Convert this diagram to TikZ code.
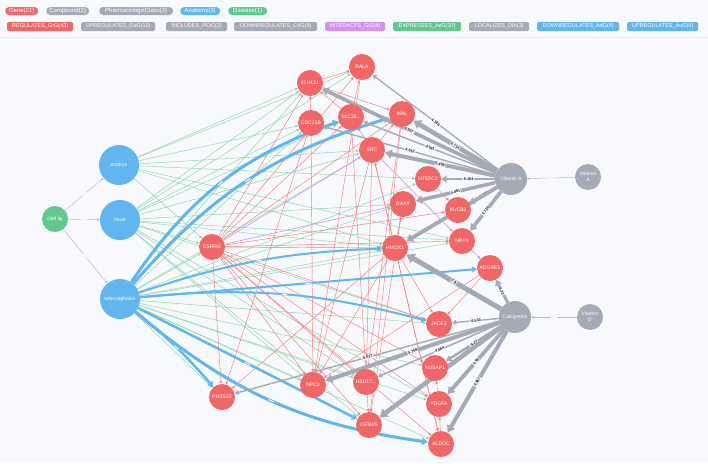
\documentclass[tikz,border=0pt]{standalone}
\usepackage{fontspec}
\setmainfont{Liberation Sans}
\usepackage{xcolor}
\usepackage{tikz}
\usetikzlibrary{positioning,arrows.meta,backgrounds}
\definecolor{BG}{HTML}{F8F9FC}
\definecolor{RULE}{HTML}{E8EAF0}
\definecolor{INK}{HTML}{1A1A1A}
\definecolor{GENE}{HTML}{F16667}
\definecolor{COMP}{HTML}{A5ABB6}
\definecolor{ANAT}{HTML}{62B6F0}
\definecolor{DIS}{HTML}{63C78F}
\definecolor{INTER}{HTML}{D393EC}
\definecolor{EXPR}{HTML}{86D6A8}

\begin{document}
\begin{tikzpicture}[
    x=1pt, y=-1pt,
    font=\fontsize{5}{6}\selectfont,
    pill/.style={fill=#1, text=white, anchor=west, rounded corners=4pt,
      minimum height=8pt, inner ysep=0pt, inner xsep=3pt, font=\fontsize{6}{7}\selectfont},
    tag/.style={fill=#1, text=white, anchor=west, rounded corners=1.5pt,
      minimum height=9pt, inner ysep=0pt, inner xsep=3pt, font=\fontsize{5.5}{6}\selectfont},
    gene/.style={circle, fill=GENE, text=white, minimum size=26pt, inner sep=0pt},
    anat/.style={circle, fill=ANAT, text=white, minimum size=40pt, inner sep=0pt},
    cmpd/.style={circle, fill=COMP, text=white, minimum size=32pt, inner sep=0pt},
    pclass/.style={circle, fill=COMP, text=white, minimum size=26pt, inner sep=0pt, align=center},
    dis/.style={circle, fill=DIS, text=white, minimum size=26pt, inner sep=0pt},
    thin/.style={line width=0.45pt, -{Triangle[length=2.6pt, width=2.4pt]}},
    expr/.style={thin, draw=EXPR},
    regu/.style={thin, draw=GENE!85},
    inter/.style={thin, draw=INTER, line width=0.6pt},
    link/.style={thin, draw=COMP!80, line width=0.5pt},
    aedge/.style={draw=ANAT, -{Triangle[length=2.5pt 1.1, width=2.5pt 1.6]}},
    cedge/.style={draw=COMP, -{Triangle[length=2.5pt 1.1, width=2.5pt 1.6]}},
    elab/.style={font=\fontsize{3.8}{4}\selectfont\bfseries, text=INK, fill=BG,
      inner sep=0.5pt, sloped},
    gap/.style={fill=BG, inner sep=0pt, minimum width=6pt, minimum height=1pt, sloped},
  ]

  \useasboundingbox (0,0) rectangle (708,463);

  % --- legend ---
  \node[pill=GENE, minimum width=33pt] (lgGene) at (5,11) {Gene(21)};
  \node[pill=COMP, minimum width=43pt] (lgComp) at (46,11) {Compound(2)};
  \node[pill=COMP, minimum width=74pt] (lgPC) at (99,11) {PharmacologicClass(2)};
  \node[pill=ANAT, minimum width=40pt] (lgAnat) at (180,11) {Anatomy(3)};
  \node[pill=DIS, minimum width=39pt] (lgDis) at (228,11) {Disease(1)};

  \node[tag=GENE, minimum width=66pt] (lgGrG) at (7,26.5) {REGULATES\_GrG(43)};
  \node[tag=COMP, minimum width=74pt] (lgCuG) at (81,26.5) {UPREGULATES\_CuG(12)};
  \node[tag=COMP, minimum width=61pt] (lgPCiC) at (166,26.5) {INCLUDES\_PCiC(2)};
  \node[tag=COMP, minimum width=83pt] (lgCdG) at (234,26.5) {DOWNREGULATES\_CdG(9)};
  \node[tag=INTER, minimum width=60pt] (lgGiG) at (325,26.5) {INTERACTS\_GiG(4)};
  \node[tag=DIS, minimum width=68pt] (lgAeG) at (393,26.5) {EXPRESSES\_AeG(37)};
  \node[tag=COMP, minimum width=60pt] (lgDlA) at (469,26.5) {LOCALIZES\_DlA(3)};
  \node[tag=ANAT, minimum width=82pt] (lgAdG) at (537,26.5) {DOWNREGULATES\_AdG(4)};
  \node[tag=ANAT, minimum width=71pt] (lgAuG) at (627,26.5) {UPREGULATES\_AuG(4)};

  % --- disease and anatomy ---
  \node[dis] (cleft) at (55,219) {cleft lip};
  \node[anat] (embryo) at (119,165) {embryo};
  \node[anat] (head) at (120,220) {head};
  \node[anat] (tel) at (120,299) {telencephalon};

  % --- genes ---
  \node[gene] (ESRRG) at (212,247) {ESRRG};
  \node[gene] (KLHL21) at (310,83) {KLHL21};
  \node[gene] (RALA) at (362,67) {RALA};
  \node[gene] (CDC25B) at (311,123) {CDC25B};
  \node[gene] (SLC25) at (351,117) {SLC25...};
  \node[gene] (MAL) at (402,114) {MAL};
  \node[gene] (SRC) at (372,150) {SRC};
  \node[gene] (NT5DC2) at (428,179) {NT5DC2};
  \node[gene] (DAXX) at (403,204) {DAXX};
  \node[gene] (NUCB2) at (458,210) {NUCB2};
  \node[gene] (NRP1) at (462,241) {NRP1};
  \node[gene] (HMOX1) at (395,248) {HMOX1};
  \node[gene] (ADGRE5) at (490,268) {ADGRE5};
  \node[gene] (JADE2) at (439,324) {JADE2};
  \node[gene] (NUSAP1) at (435,368) {NUSAP1};
  \node[gene] (PDGFA) at (439,404) {PDGFA};
  \node[gene] (ALDOC) at (441,444) {ALDOC};
  \node[gene] (IGFBP5) at (369,425) {IGFBP5};
  \node[gene] (HSD17) at (366,382) {HSD17...};
  \node[gene] (NPC1) at (313,385) {NPC1};
  \node[gene] (PRSS23) at (222,397) {PRSS23};

  % --- compounds and classes ---
  \node[cmpd] (VitA) at (511,179) {Vitamin A};
  \node[pclass] (VitAcls) at (588,177) {Vitamin\\A};
  \node[cmpd] (Calci) at (515,317) {Calcipotriol};
  \node[pclass] (VitDcls) at (590,317) {Vitamin\\D};

  \begin{scope}[on background layer]
    \fill[BG] (0,0) rectangle (708,463);
    \draw[RULE, line width=0.4pt] (0,37) -- (708,37);

    % expresses
    \foreach \g in {KLHL21,RALA,CDC25B,SRC,NT5DC2,HMOX1,ESRRG,NRP1}
      \draw[expr] (embryo) -- (\g);
    \foreach \g in {KLHL21,RALA,CDC25B,SLC25,SRC,DAXX,HMOX1,NRP1,ESRRG,JADE2,NPC1,PDGFA,HSD17,IGFBP5}
      \draw[expr] (head) -- (\g);
    \foreach \g in {KLHL21,CDC25B,SRC,NT5DC2,DAXX,HMOX1,NRP1,ESRRG,JADE2,NPC1,HSD17,PDGFA,ALDOC,PRSS23,NUSAP1}
      \draw[expr] (tel) -- (\g);

    % regulates
    \foreach \g in {KLHL21,RALA,SLC25,MAL,HMOX1,NRP1,NUCB2,JADE2,PRSS23,NPC1,HSD17,IGFBP5,ALDOC,NUSAP1,PDGFA}
      \draw[regu] (ESRRG) -- (\g);
    \foreach \s/\t in {KLHL21/RALA,KLHL21/MAL,SLC25/RALA,SLC25/KLHL21,CDC25B/KLHL21,
        CDC25B/NPC1,CDC25B/PRSS23,SRC/MAL,SRC/NPC1,SRC/HSD17,SRC/SLC25,HMOX1/DAXX,
        HMOX1/JADE2,HMOX1/SRC,HMOX1/ALDOC,HMOX1/NPC1,HMOX1/PRSS23,NT5DC2/NUCB2,
        DAXX/IGFBP5,ADGRE5/NPC1,ADGRE5/JADE2,PDGFA/NUSAP1,ALDOC/PDGFA,RALA/NPC1,
        MAL/HSD17,SLC25/IGFBP5,SRC/ALDOC,MAL/IGFBP5}
      \draw[regu] (\s) -- (\t);

    % interacts
    \foreach \s/\t in {ESRRG/SRC,ESRRG/DAXX,SRC/NRP1,NRP1/ADGRE5}
      \draw[inter] (\s) -- (\t);

    % localizes, includes
    \foreach \g in {embryo,head,tel}
      \draw[link] (cleft) -- node[gap]{} (\g);
    \draw[link] (VitAcls) -- node[gap]{} (VitA);
    \draw[link] (VitDcls) -- node[gap]{} (Calci);

    % anatomy up/down
    \draw[aedge, line width=3pt] (tel) to[bend left=18] node[gap]{} (SLC25);
    \draw[aedge, line width=3pt] (tel) to[bend left=16] node[gap]{} (MAL);
    \draw[aedge, line width=2pt] (tel) to[bend left=8] node[gap]{} (HMOX1);
    \draw[aedge, line width=2pt] (tel) -- node[gap]{} (ADGRE5);
    \draw[aedge, line width=2pt] (tel) to[bend left=10] node[gap]{} (JADE2);
    \draw[aedge, line width=2.5pt] (tel) to[bend left=5] node[gap]{} (PRSS23);
    \draw[aedge, line width=2.5pt] (tel) -- node[gap]{} (IGFBP5);
    \draw[aedge, line width=3pt] (tel) to[bend right=16] node[gap]{} (ALDOC);

    % compound up/down
    \foreach \g/\v/\w in {RALA/-4.186/1.3, KLHL21/6.567/3.6, MAL/4.714/4.6,
        SLC25/-4.541/1.4, CDC25B/-4.652/1.4, SRC/5.498/4.0, NT5DC2/-5.164/2.6,
        DAXX/4.861/3.6, NUCB2/-5.480/2.8, NRP1/4.736/3.6}
      \draw[cedge, line width=\w pt] (VitA) -- node[elab]{\v} (\g);
    \draw[cedge, line width=3.8pt] (VitA) -- (HMOX1);
    \foreach \g/\v/\w in {ADGRE5/6.23/3.0, HMOX1/7.9/5.0, JADE2/-6.533/1.4,
        NUSAP1/-4.27/2.4, PDGFA/4.65/3.8, ALDOC/4.857/4.0, NPC1/4.758/4.0,
        HSD17/-4.664/1.5, PRSS23/-5.037/1.4}
      \draw[cedge, line width=\w pt] (Calci) -- node[elab]{\v} (\g);
    \draw[cedge, line width=4.6pt] (Calci) -- (IGFBP5);
  \end{scope}

\end{tikzpicture}
\end{document}
